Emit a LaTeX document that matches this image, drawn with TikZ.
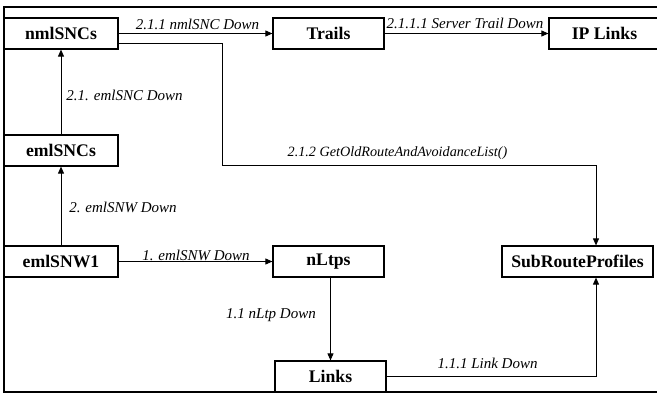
\documentclass[tikz,border=0pt]{standalone}
\usepackage{fontspec}
\setmainfont{Liberation Serif}
\usetikzlibrary{arrows.meta}
\begin{document}
\begin{tikzpicture}[x=1pt,y=-1pt,
  box/.style={draw,line width=1.2pt,rectangle,minimum height=31pt,inner sep=0pt,
    font=\bfseries\fontsize{17.7}{20}\selectfont},
  msg/.style={font=\itshape\fontsize{15}{18}\selectfont,inner sep=0pt},
  link/.style={line width=0.9pt,-{Triangle[length=7pt,width=6pt]}},
  plain/.style={line width=0.9pt}]
\useasboundingbox (0,0) rectangle (657,394);
% outer frame
\begin{scope}
\clip (0,0) rectangle (657,394);
\draw[line width=1.8pt] (4,7) rectangle (680,392);
\end{scope}

% objects
\node[box,minimum width=114pt] (nml) at (61,33.5) {nmlSNCs};
\node[box,minimum width=111pt] (trails) at (328.5,33.5) {Trails};
\begin{scope}
\clip (0,0) rectangle (657,394);
\node[box,minimum width=111pt] (ip) at (604.5,33.5) {IP Links};
\end{scope}
\node[box,minimum width=114pt] (emlsnc) at (61,150.5) {emlSNCs};
\node[box,minimum width=114pt] (emlsnw) at (61,261.5) {emlSNW1};
\node[box,minimum width=111pt] (nltps) at (328.5,261.5) {nLtps};
\node[box,minimum width=151pt] (srp) at (577.5,261.5) {SubRouteProfiles};
\node[box,minimum width=111pt] (links) at (330.5,376.5) {Links};

\coordinate (bend) at (222,165);

% messages
\draw[link] (nml.east) -- (trails.west);
\draw[link] (trails.east) -- (ip.west);
\draw[link] ([yshift=-9.5pt]nml.east) -| (bend) -| ([xshift=18.5pt]srp.north);
\draw[link] (emlsnc.north) -- (nml.south);
\draw[link] (emlsnw.north) -- (emlsnc.south);
\draw[link] (emlsnw.east) -- (nltps.west);
\draw[link] (links.north |- nltps.south) -- (links.north);
\draw[link] (links.east) -| ([xshift=18.5pt]srp.south);

% message labels
\node[msg] (m1) at (197.5,24) {2.1.1 nmlSNC Down};
\node[msg] (m2) at (465,23) {2.1.1.1 Server Trail Down};
\node[msg,font=\itshape\fontsize{14.2}{17}\selectfont] (m3) at (397.5,153) {2.1.2 GetOldRouteAndAvoidanceList()};
\node[msg] (m4) at (124.5,95) {2.1. emlSNC Down};
\node[msg] (m5) at (123,207) {2. emlSNW Down};
\node[msg] (m6) at (196,255) {1. emlSNW Down};
\node[msg] (m7) at (271,315) {1.1 nLtp Down};
\node[msg] (m8) at (487.5,363) {1.1.1 Link Down};
\end{tikzpicture}
\end{document}
